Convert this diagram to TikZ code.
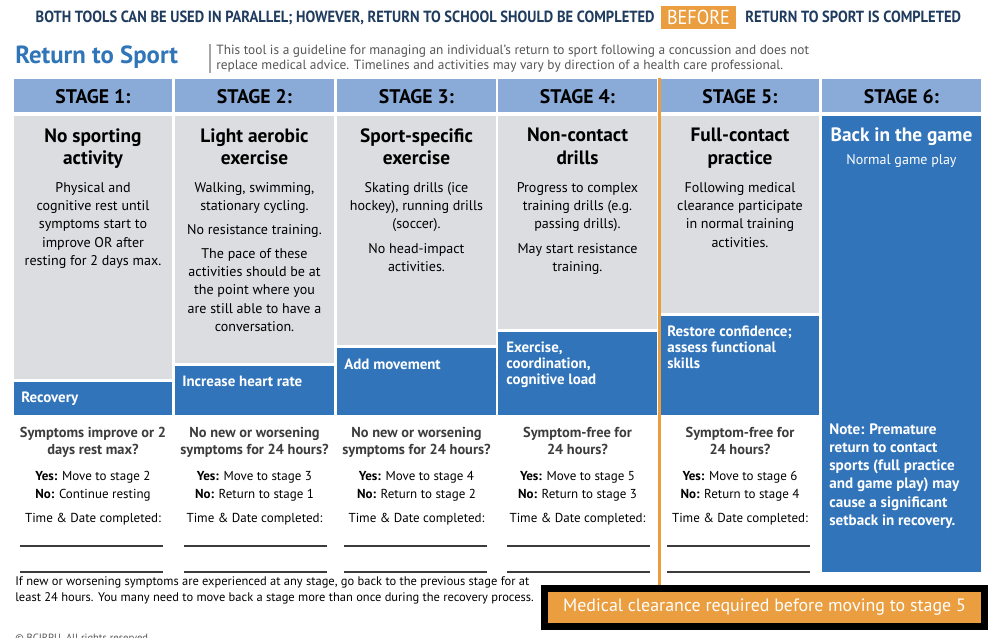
\documentclass[tikz,border=0pt]{standalone}
\usepackage{fontspec}
\setmainfont{PT Sans}
\newfontfamily\condensed[FakeStretch=0.9]{PT Sans}
\definecolor{navy}{HTML}{1F3B5E}
\definecolor{titleblue}{HTML}{2F75B8}
\definecolor{headblue}{HTML}{8AAAD8}
\definecolor{panelgrey}{HTML}{DCDDE0}
\definecolor{stageblue}{HTML}{3174BA}
\definecolor{clearorange}{HTML}{EB9E40}
\definecolor{askgrey}{HTML}{3C3C3C}
\definecolor{notegrey}{HTML}{555555}

\begin{document}
\begin{tikzpicture}[x=0.02cm,y=-0.02cm,
  every node/.style={inner sep=0pt},
  stagehead/.style={anchor=base,font=\bfseries\fontsize{11.2}{12}\selectfont},
  stagetitle/.style={anchor=north,align=center,font=\bfseries\fontsize{11}{12.6}\selectfont},
  stagetext/.style={anchor=north,align=center,font=\fontsize{8}{10.4}\selectfont},
  goal/.style={anchor=north west,align=left,text=white,font=\bfseries\fontsize{8.5}{8.9}\selectfont},
  ask/.style={anchor=north,align=center,text=askgrey,font=\bfseries\fontsize{8.2}{9.7}\selectfont},
  answer/.style={anchor=north,align=center,font=\fontsize{7.4}{10.2}\selectfont},
  blank/.style={draw=askgrey,line width=0.6pt}]
\useasboundingbox (0,0) rectangle (994,638);

\node[anchor=base east,text=navy,font=\condensed\bfseries\fontsize{9.2}{10}\selectfont] (both) at (655,23) {BOTH TOOLS CAN BE USED IN PARALLEL; HOWEVER, RETURN TO SCHOOL SHOULD BE COMPLETED};
\node[fill=clearorange,minimum width=1.5cm,minimum height=0.46cm,text=white,font=\condensed\fontsize{11.5}{12}\selectfont] (before) at (698.5,17.5) {BEFORE};
\node[anchor=base west,text=navy,font=\condensed\bfseries\fontsize{9.2}{10}\selectfont] (after) at (745,23) {RETURN TO SPORT IS COMPLETED};

\node[anchor=base west,text=titleblue,font=\bfseries\fontsize{14.1}{15}\selectfont] (title) at (15,64) {Return to Sport};
\draw[gray!70,line width=0.6pt] (210,44) -- (210,73);
\node[anchor=north west,align=left,text=notegrey,font=\fontsize{7.6}{8.1}\selectfont] (about) at (216,45) {This tool is a guideline for managing an individual's return to sport following a concussion and does not\\replace medical advice. Timelines and activities may vary by direction of a health care professional.};

\fill[headblue] (14,79) rectangle (172,112);
\fill[headblue] (175,79) rectangle (334,112);
\fill[headblue] (337,79) rectangle (496,112);
\fill[headblue] (498,79) rectangle (657,112);
\fill[headblue] (661,79) rectangle (819,112);
\fill[headblue] (822,79) rectangle (981,112);
\node[stagehead] (s1head) at (93,104) {STAGE 1:};
\node[stagehead] (s2head) at (254.5,104) {STAGE 2:};
\node[stagehead] (s3head) at (416.5,104) {STAGE 3:};
\node[stagehead] (s4head) at (577.5,104) {STAGE 4:};
\node[stagehead] (s5head) at (740,104) {STAGE 5:};
\node[stagehead] (s6head) at (901.5,104) {STAGE 6:};

\fill[panelgrey] (14,116) rectangle (172,379);
\fill[stageblue] (14,382) rectangle (172,415);
\fill[panelgrey] (175,116) rectangle (334,363);
\fill[stageblue] (175,366) rectangle (334,415);
\fill[panelgrey] (337,116) rectangle (496,345);
\fill[stageblue] (337,348) rectangle (496,415);
\fill[panelgrey] (498,116) rectangle (657,329);
\fill[stageblue] (498,332) rectangle (657,415);
\fill[panelgrey] (661,116) rectangle (819,313);
\fill[stageblue] (661,316) rectangle (819,415);
\fill[stageblue] (822,116) rectangle (981,572);

\node[stagetitle] (s1title) at (93,128) {No sporting\\activity};
\node[stagetext] (s1text) at (93,182) {Physical and\\cognitive rest until\\symptoms start to\\improve OR after\\resting for 2 days max.};
\node[goal] (s1goal) at (21,392) {Recovery};

\node[stagetitle] (s2title) at (254.5,128) {Light aerobic\\exercise};
\node[stagetext] (s2text) at (254.5,182) {Walking, swimming,\\stationary cycling.\\[3.2pt]No resistance training.\\[3.2pt]The pace of these\\activities should be at\\the point where you\\are still able to have a\\conversation.};
\node[goal] (s2goal) at (182,376) {Increase heart rate};

\node[stagetitle] (s3title) at (416.5,128) {Sport-specific\\exercise};
\node[stagetext] (s3text) at (416.5,182) {Skating drills (ice\\hockey), running drills\\(soccer).\\[3.4pt]No head-impact\\activities.};
\node[goal] (s3goal) at (344,359) {Add movement};

\node[stagetitle] (s4title) at (577.5,128) {Non-contact\\drills};
\node[stagetext] (s4text) at (577.5,182) {Progress to complex\\training drills (e.g.\\passing drills).\\[3.4pt]May start resistance\\training.};
\node[goal] (s4goal) at (506,342) {Exercise,\\coordination,\\cognitive load};

\node[stagetitle] (s5title) at (740,128) {Full-contact\\practice};
\node[stagetext] (s5text) at (740,182) {Following medical\\clearance participate\\in normal training\\activities.};
\node[goal] (s5goal) at (667,326) {Restore confidence;\\assess functional\\skills};

\node[stagetitle,anchor=base,text=white] (s6title) at (901.5,142) {Back in the game};
\node[stagetext,anchor=base,text=white] (s6text) at (901.5,165) {Normal game play};
\node[goal,font=\bfseries\fontsize{8.6}{10.4}\selectfont] (s6note) at (829,423) {Note: Premature\\return to contact\\sports (full practice\\and game play) may\\cause a significant\\setback in recovery.};

\node[ask] (s1ask) at (93,427) {Symptoms improve or 2\\days rest max?};
\node[answer] (s1answer) at (93,471) {\textbf{Yes:} Move to stage 2\\\textbf{No:} Continue resting};
\node[answer] (s1done) at (93,513) {Time \& Date completed:};
\draw[blank] (20,546) -- (163,546);
\draw[blank] (20,572) -- (163,572);

\node[ask] (s2ask) at (254.5,427) {No new or worsening\\symptoms for 24 hours?};
\node[answer] (s2answer) at (254.5,471) {\textbf{Yes:} Move to stage 3\\\textbf{No:} Return to stage 1};
\node[answer] (s2done) at (254.5,513) {Time \& Date completed:};
\draw[blank] (184,546) -- (327,546);
\draw[blank] (184,572) -- (327,572);

\node[ask] (s3ask) at (416.5,427) {No new or worsening\\symptoms for 24 hours?};
\node[answer] (s3answer) at (416.5,471) {\textbf{Yes:} Move to stage 4\\\textbf{No:} Return to stage 2};
\node[answer] (s3done) at (416.5,513) {Time \& Date completed:};
\draw[blank] (344,546) -- (487,546);
\draw[blank] (344,572) -- (487,572);

\node[ask] (s4ask) at (577.5,427) {Symptom-free for\\24 hours?};
\node[answer] (s4answer) at (577.5,471) {\textbf{Yes:} Move to stage 5\\\textbf{No:} Return to stage 3};
\node[answer] (s4done) at (577.5,513) {Time \& Date completed:};
\draw[blank] (507,546) -- (650,546);
\draw[blank] (507,572) -- (650,572);

\node[ask] (s5ask) at (740,427) {Symptom-free for\\24 hours?};
\node[answer] (s5answer) at (740,471) {\textbf{Yes:} Move to stage 6\\\textbf{No:} Return to stage 4};
\node[answer] (s5done) at (740,513) {Time \& Date completed:};
\draw[blank] (667,546) -- (810,546);
\draw[blank] (667,572) -- (810,572);

\node[fill=clearorange,draw=black,line width=0.14cm,minimum width=8.8cm,minimum height=0.76cm,text=white,font=\fontsize{10.2}{11}\selectfont] (clearance) at (764.5,607.5) {Medical clearance required before moving to stage 5};
\coordinate (gate) at (659.5,78);
\draw[clearorange,line width=1.7pt] (gate) -- (gate |- clearance.north);

\node[anchor=base west,align=left,font=\fontsize{7.1}{9.1}\selectfont] (setback) at (15,601) {If new or worsening symptoms are experienced at any stage, go back to the previous stage for at\\least 24 hours. You many need to move back a stage more than once during the recovery process.};
\node[anchor=base west,text=notegrey,font=\fontsize{6}{7}\selectfont] (rights) at (15,641) {\textcopyright{} BCIRPU. All rights reserved.};
\end{tikzpicture}
\end{document}
